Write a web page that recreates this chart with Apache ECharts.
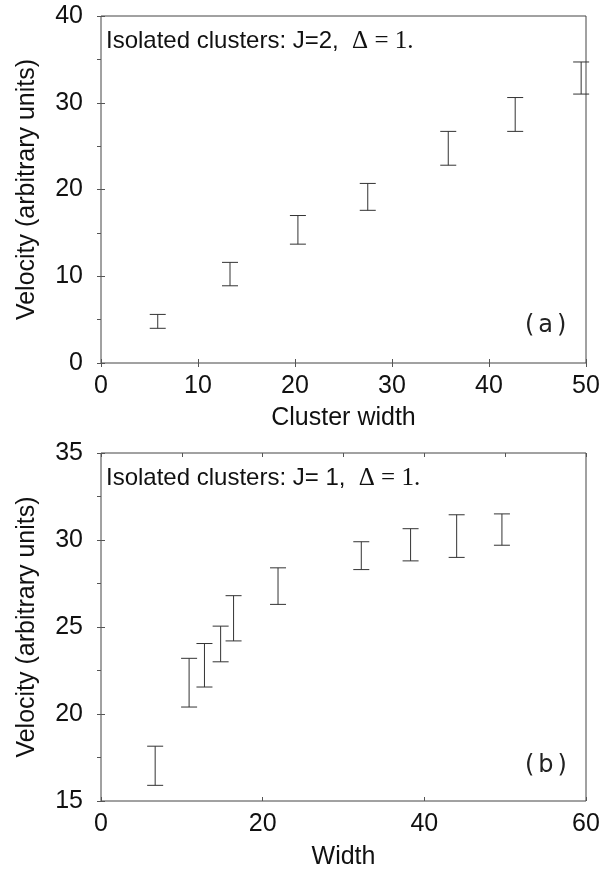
<!DOCTYPE html>
<html>
<head>
<meta charset="utf-8">
<script src="https://cdn.jsdelivr.net/npm/echarts@6/dist/echarts.min.js"></script>
<style>
html,body{margin:0;padding:0;background:#fff;}
#chart{width:611px;height:871px;}
</style>
</head>
<body>
<div id="chart"></div>
<script>
// Panel (a): isolated clusters J=2
var widthA = [5.85, 13.3, 20.3, 27.5, 35.8, 42.7, 49.5];
var lowA   = [4.0, 8.9, 13.7, 17.6, 22.8, 26.7, 31.0];
var highA  = [5.6, 11.6, 17.0, 20.7, 26.7, 30.6, 34.7];

// Panel (b): isolated clusters J=1
var widthB = [6.7, 10.9, 12.8, 14.8, 16.4, 21.9, 32.2, 38.3, 44.0, 49.6];
var lowB   = [15.9, 20.4, 21.55, 23.0, 24.2, 26.3, 28.3, 28.8, 29.0, 29.7];
var highB  = [18.15, 23.2, 24.05, 25.05, 26.8, 28.4, 29.9, 30.65, 31.45, 31.5];

var ticksAX = ['0','10','20','30','40','50'];
var ticksAY = ['0','10','20','30','40'];
var ticksBX = ['0','20','40','60'];
var ticksBY = ['15','20','25','30','35'];

function build(xs, lo, hi) {
  return xs.map(function (x, i) { return [x, lo[i], hi[i]]; });
}

var FONT = '"Liberation Sans", Arial, Helvetica, sans-serif';
var SERIF = '"Liberation Serif", "DejaVu Serif", serif';
var INK = '#111';

function errRender(params, api) {
  var x = api.value(0);
  var pLo = api.coord([x, api.value(1)]);
  var pHi = api.coord([x, api.value(2)]);
  var hw = 8;
  var st = { stroke: '#333', lineWidth: 1 };
  return {
    type: 'group',
    children: [
      { type: 'line', shape: { x1: pLo[0], y1: pLo[1], x2: pHi[0], y2: pHi[1] }, style: st },
      { type: 'line', shape: { x1: pLo[0] - hw, y1: pLo[1], x2: pLo[0] + hw, y2: pLo[1] }, style: st },
      { type: 'line', shape: { x1: pHi[0] - hw, y1: pHi[1], x2: pHi[0] + hw, y2: pHi[1] }, style: st }
    ]
  };
}

function xMain(gi, min, max, interval, name, gap) {
  return {
    gridIndex: gi, type: 'value', min: min, max: max, interval: interval,
    name: name, nameLocation: 'middle', nameGap: gap,
    nameTextStyle: { fontFamily: FONT, fontSize: 25, color: INK },
    axisLine: { show: false },
    axisTick: { show: true, inside: true, length: 4, lineStyle: { color: '#555' } },
    axisLabel: { fontFamily: FONT, fontSize: 25, color: INK, margin: 11 },
    splitLine: { show: false }
  };
}
function xTop(gi, min, max, interval) {
  return {
    gridIndex: gi, type: 'value', position: 'top', min: min, max: max, interval: interval,
    axisLine: { show: false },
    axisTick: { show: true, inside: true, length: 4, lineStyle: { color: '#555' } },
    axisLabel: { show: false }, splitLine: { show: false }
  };
}
function yMain(gi, min, max, interval, name) {
  return {
    gridIndex: gi, type: 'value', min: min, max: max, interval: interval,
    name: name, nameLocation: 'middle', nameGap: 61,
    nameTextStyle: { fontFamily: FONT, fontSize: 25, color: INK },
    axisLine: { show: false },
    axisTick: { show: true, inside: true, length: 4, lineStyle: { color: '#555' } },
    axisLabel: { fontFamily: FONT, fontSize: 25, color: INK, margin: 18 },
    splitLine: { show: false }
  };
}
function yRight(gi, min, max, interval) {
  return {
    gridIndex: gi, type: 'value', position: 'right', min: min, max: max, interval: interval,
    axisLine: { show: false },
    axisTick: { show: true, inside: true, length: 4, lineStyle: { color: '#555' } },
    axisLabel: { show: false }, splitLine: { show: false }
  };
}

var annRich = {
  s: { fontFamily: FONT, fontSize: 24, fill: INK },
  d: { fontFamily: SERIF, fontSize: 25, fill: INK }
};
var tagRich = {
  p: { fontFamily: '"DejaVu Sans", sans-serif', fontSize: 24, fill: '#222' },
  l: { fontFamily: '"DejaVu Sans", sans-serif', fontSize: 24, fill: '#222', padding: [0, 4, 0, 4] }
};

var chart = echarts.init(document.getElementById('chart'), null, { renderer: 'canvas' });
chart.setOption({
  backgroundColor: '#fff',
  animation: false,
  grid: [
    { left: 101, right: 25, top: 16, height: 347, show: true, borderColor: '#444', borderWidth: 1, backgroundColor: 'transparent' },
    { left: 101, right: 25, top: 453, height: 350, show: true, borderColor: '#444', borderWidth: 1, backgroundColor: 'transparent' }
  ],
  xAxis: [
    xMain(0, 0, 50, 10, 'Cluster width', 43),
    xTop(0, 0, 50, 10),
    xMain(1, 0, 60, 20, 'Width', 44),
    xTop(1, 0, 60, 10)
  ],
  yAxis: [
    yMain(0, 0, 40, 10, 'Velocity (arbitrary units)'),
    yRight(0, 0, 40, 5),
    yMain(1, 15, 35, 5, 'Velocity (arbitrary units)'),
    yRight(1, 15, 35, 2.5)
  ],
  graphic: [
    { type: 'text', left: 106, top: 29, style: {
        text: '{s|Isolated clusters: J=2,  }{d|\u0394 = 1.}', rich: annRich } },
    { type: 'text', left: 106, top: 466, style: {
        text: '{s|Isolated clusters: J= 1,  }{d|\u0394 = 1.}', rich: annRich } },
    { type: 'text', left: 525, top: 314, style: { text: '{p|(}{l|a}{p|)}', rich: tagRich } },
    { type: 'text', left: 525, top: 754, style: { text: '{p|(}{l|b}{p|)}', rich: tagRich } }
  ],
  series: [
    { type: 'custom', xAxisIndex: 0, yAxisIndex: 0, renderItem: errRender,
      encode: { x: 0, y: [1, 2] }, data: build(widthA, lowA, highA) },
    { type: 'custom', xAxisIndex: 2, yAxisIndex: 2, renderItem: errRender,
      encode: { x: 0, y: [1, 2] }, data: build(widthB, lowB, highB) }
  ]
});
</script>
</body>
</html>
